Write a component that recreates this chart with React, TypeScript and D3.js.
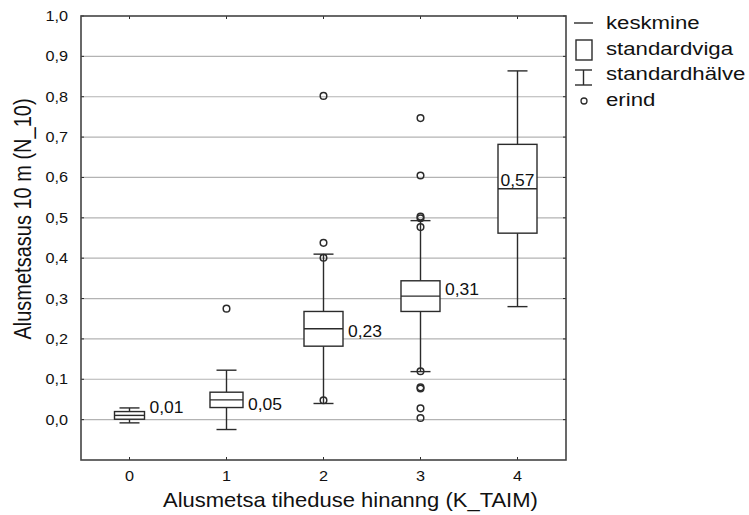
import React from 'react';
import * as d3 from 'd3';

// kategooriad (K_TAIM)
const categories = ['0', '1', '2', '3', '4'];
// keskmine, standardviga, standardhälve
const means = [0.0105, 0.049, 0.225, 0.306, 0.572];
const stdErr = [0.0095, 0.019, 0.043, 0.038, 0.11];
const stdDev = [0.0185, 0.0735, 0.185, 0.187, 0.292];
const meanLabels = ['0,01', '0,05', '0,23', '0,31', '0,57'];
// erindid
const outliers = [
  [],
  [0.275],
  [0.802, 0.438, 0.401, 0.048],
  [0.747, 0.605, 0.503, 0.499, 0.477, 0.12, 0.08, 0.077, 0.028, 0.004],
  [],
];
const yTickValues = [0, 0.1, 0.2, 0.3, 0.4, 0.5, 0.6, 0.7, 0.8, 0.9, 1.0];
const yTickLabels = ['0,0', '0,1', '0,2', '0,3', '0,4', '0,5', '0,6', '0,7', '0,8', '0,9', '1,0'];
const legendItems = ['keskmine', 'standardviga', 'standardhälve', 'erind'];

const FONT = '"Liberation Sans", Arial, sans-serif';
const INK = '#2b2b2b';

function T({ x, y, sx = 1, size, anchor = 'start', children }: any) {
  return (
    <text
      transform={`translate(${x},${y}) scale(${sx},1)`}
      fontSize={size}
      fontFamily={FONT}
      fill="#111"
      textAnchor={anchor}
    >
      {children}
    </text>
  );
}

export default function App() {
  const margin = { top: 16, right: 183, bottom: 55, left: 81 };
  const W = 749;
  const H = 515;
  const left = margin.left;
  const right = W - margin.right;
  const top = margin.top;
  const bottom = H - margin.bottom;

  const x = d3.scalePoint<string>().domain(categories).range([left, right]).padding(0.5);
  const y = d3.scaleLinear().domain([-0.1, 1.0]).range([bottom, top]);

  const boxW = [30, 33, 39, 39, 39];
  const capW = 20;
  const labelDy = [-2, 10.5, 8, -1, -2.5];

  return (
    <svg width={W} height={H} style={{ position: 'absolute', left: 0, top: 0, background: '#fff' }}>
      {/* ruudujooned */}
      {yTickValues.slice(0, -1).map((v) => (
        <line key={'g' + v} x1={left} x2={right} y1={y(v)} y2={y(v)} stroke="#b3b3b3" strokeWidth={1.2} />
      ))}

      {/* tikid */}
      {yTickValues.map((v) => (
        <g key={'t' + v}>
          <line x1={left} x2={left + 3} y1={y(v)} y2={y(v)} stroke={INK} />
          <line x1={right - 3} x2={right} y1={y(v)} y2={y(v)} stroke={INK} />
        </g>
      ))}
      {categories.map((c) => (
        <g key={'xt' + c}>
          <line x1={x(c)} x2={x(c)} y1={bottom} y2={bottom - 3} stroke={INK} />
          <line x1={x(c)} x2={x(c)} y1={top} y2={top + 3} stroke={INK} />
        </g>
      ))}

      {/* kastid */}
      {categories.map((c, i) => {
        const cx = x(c) as number;
        const m = means[i];
        const bw = boxW[i];
        return (
          <g key={'b' + c} stroke={INK} strokeWidth={1.4} fill="none">
            <line x1={cx} x2={cx} y1={y(m + stdDev[i])} y2={y(m + stdErr[i])} />
            <line x1={cx} x2={cx} y1={y(m - stdErr[i])} y2={y(m - stdDev[i])} />
            <line x1={cx - capW / 2} x2={cx + capW / 2} y1={y(m + stdDev[i])} y2={y(m + stdDev[i])} />
            <line x1={cx - capW / 2} x2={cx + capW / 2} y1={y(m - stdDev[i])} y2={y(m - stdDev[i])} />
            <rect x={cx - bw / 2} y={y(m + stdErr[i])} width={bw} height={y(m - stdErr[i]) - y(m + stdErr[i])} fill="#fff" />
            <line x1={cx - bw / 2} x2={cx + bw / 2} y1={y(m)} y2={y(m)} />
            {outliers[i].map((o, j) => (
              <circle key={j} cx={cx} cy={y(o)} r={3.3} fill="none" strokeWidth={1.5} />
            ))}
          </g>
        );
      })}
      {categories.map((c, i) => {
        const cx = x(c) as number;
        const inside = i === categories.length - 1;
        return (
          <T
            key={'l' + c}
            x={inside ? cx : cx + boxW[i] / 2 + 5}
            y={y(means[i]) + labelDy[i]}
            size={17}
            sx={1.03}
            anchor={inside ? 'middle' : 'start'}
          >
            {meanLabels[i]}
          </T>
        );
      })}

      {/* raam */}
      <rect x={left} y={top} width={right - left} height={bottom - top} fill="none" stroke="#444" strokeWidth={1.6} />

      {/* teljesildid */}
      {yTickValues.map((v, i) => (
        <T key={'yl' + v} x={68} y={y(v) + 5} size={14.5} sx={1.12} anchor="end">
          {yTickLabels[i]}
        </T>
      ))}
      {categories.map((c) => (
        <T key={'xl' + c} x={x(c)} y={481} size={14.5} sx={1.12} anchor="middle">
          {c}
        </T>
      ))}

      <T x={163} y={507} size={20} sx={1.1}>
        Alusmetsa tiheduse hinanng (K_TAIM)
      </T>
      <text
        transform={`translate(31,219) rotate(-90) scale(1.0,1.15)`}
        fontSize={20}
        fontFamily={FONT}
        fill="#111"
        textAnchor="middle"
      >
        Alusmetsasus 10 m (N_10)
      </text>

      {/* legend */}
      <g stroke={INK} strokeWidth={1.4} fill="none">
        <line x1={574} x2={593} y1={23} y2={23} />
        <rect x={576} y={40} width={16} height={20} />
        <line x1={583.5} x2={583.5} y1={70} y2={85} />
        <line x1={575} x2={592} y1={70} y2={70} />
        <line x1={575} x2={592} y1={85} y2={85} />
        <circle cx={584} cy={101} r={3} strokeWidth={1.3} />
      </g>
      {legendItems.map((t, i) => (
        <T key={t} x={606} y={29 + i * 25.7} size={18.5} sx={1.2}>
          {t}
        </T>
      ))}
    </svg>
  );
}
